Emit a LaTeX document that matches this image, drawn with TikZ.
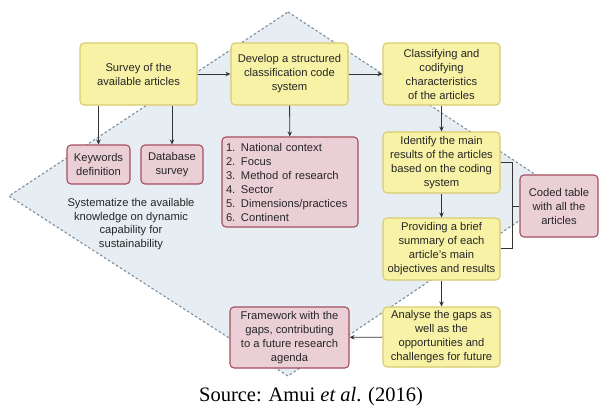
\documentclass[tikz,border=0pt]{standalone}
\usepackage{fontspec}
\setmainfont{Liberation Serif}
\setsansfont{Liberation Sans}
\usetikzlibrary{arrows.meta}
\definecolor{yfill}{HTML}{F7F2A6}
\definecolor{ydraw}{HTML}{D9CB6E}
\definecolor{pfill}{HTML}{EBCFD6}
\definecolor{pdraw}{HTML}{A44E5E}
\definecolor{dfill}{HTML}{E6EEF3}
\definecolor{ddraw}{HTML}{7E8EA0}
\definecolor{txt}{HTML}{262626}
\definecolor{arr}{HTML}{333333}
\tikzset{
  base/.style={rounded corners=4pt, line width=1.1pt, align=center, inner sep=1pt,
    font=\sffamily\fontsize{11.2}{14}\selectfont, text=txt},
  ybox/.style={base, fill=yfill, draw=ydraw},
  pbox/.style={base, fill=pfill, draw=pdraw},
  flow/.style={draw=arr, line width=0.9pt, -{Stealth[length=5pt,width=4.5pt]}},
  link/.style={draw=arr, line width=0.9pt}
}
\begin{document}
\begin{tikzpicture}[x=1pt,y=-1pt]
\useasboundingbox (0,0) rectangle (600,410);
% diamond background
\draw[fill=dfill, draw=ddraw, line width=1.1pt, dash pattern=on 2.5pt off 2.2pt]
  (288,12) -- (562,192) -- (288,376) -- (9,196) -- cycle;
% nodes
\node[ybox, minimum width=117pt, minimum height=62pt] (survey) at (138.5,74) {Survey of the\\available articles};
\node[ybox, minimum width=117pt, minimum height=62pt] (develop) at (289.5,74) {Develop a structured\\classification code\\system};
\node[ybox, minimum width=117pt, minimum height=62pt] (classify) at (441.5,74) {Classifying and\\codifying\\characteristics\\of the articles};
\node[ybox, minimum width=117pt, minimum height=61pt] (identify) at (441.5,162.5) {Identify the main\\results of the articles\\based on the coding\\system};
\node[ybox, minimum width=117pt, minimum height=62pt] (provide) at (441.5,249) {Providing a brief\\summary of each\\article's main\\objectives and results};
\node[ybox, minimum width=117pt, minimum height=60pt] (analyse) at (441.5,337) {Analyse the gaps as\\well as the\\opportunities and\\challenges for future};
\node[pbox, minimum width=119pt, minimum height=61pt] (frame) at (289.5,337.5) {Framework with the\\gaps, contributing\\to a future research\\agenda};
\node[pbox, minimum width=63pt, minimum height=39pt] (keys) at (98.5,164.5) {Keywords\\definition};
\node[pbox, minimum width=62pt, minimum height=39pt] (dbase) at (172,164.5) {Database\\survey};
\node[pbox, minimum width=136pt, minimum height=90pt, align=left, text width=128pt] (list) at (290,182)
  {1. National context\\2. Focus\\3. Method of research\\4. Sector\\5. Dimensions/practices\\6. Continent};
\node[pbox, minimum width=78pt, minimum height=62pt] (coded) at (559,206) {Coded table\\with all the\\articles};
\node[align=center, text=txt, font=\sffamily\fontsize{11.2}{13.6}\selectfont] (goal) at (131,224)
  {Systematize the available\\knowledge on dynamic\\capability for\\sustainability};
% connectors
\draw[flow] (survey) -- (develop);
\draw[flow] (develop) -- (classify);
\draw[flow] (survey.south -| keys) -- (keys);
\draw[flow] (survey.south -| dbase) -- (dbase);
\draw[flow] (develop) -- (list);
\draw[flow] (classify) -- (identify);
\draw[flow] (identify) -- (provide);
\draw[flow] (provide) -- (analyse);
\draw[flow] (analyse) -- (frame);
\coordinate (bt) at (512,162.5);
\coordinate (bb) at (512,248);
\coordinate (bm) at (512,206);
\draw[link] (identify.east) -- (bt) -- (bb) -- (provide.east |- bb);
\draw[link] (bm) -- (coded.west);
% caption
\node[anchor=base, font=\fontsize{20.5}{24}\selectfont, inner sep=0pt] (cap) at (311,401)
  {Source: Amui \textit{et al}. (2016)};
\end{tikzpicture}
\end{document}
